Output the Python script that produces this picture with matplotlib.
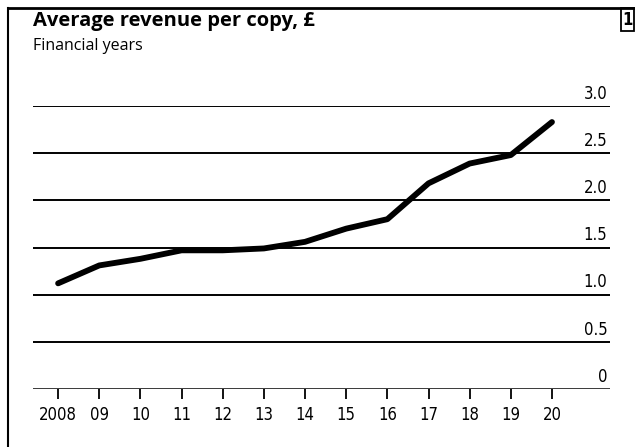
import matplotlib.pyplot as plt
from matplotlib.lines import Line2D
from matplotlib.patches import Rectangle

years = [2008, 2009, 2010, 2011, 2012, 2013, 2014, 2015, 2016, 2017, 2018, 2019, 2020]
year_labels = ["2008", "09", "10", "11", "12", "13", "14", "15", "16", "17", "18", "19", "20"]
revenue = [1.12, 1.31, 1.38, 1.47, 1.47, 1.49, 1.56, 1.70, 1.80, 2.18, 2.39, 2.48, 2.83]
y_ticks = [0, 0.5, 1.0, 1.5, 2.0, 2.5, 3.0]
y_labels = ["0", "0.5", "1.0", "1.5", "2.0", "2.5", "3.0"]

plt.rcParams['font.family'] = ['DejaVu Sans']
plt.rcParams['font.stretch'] = 'condensed'

fig = plt.figure(figsize=(6.35, 4.47), dpi=100)
ax = fig.add_axes([33 / 635, 58 / 447, 577 / 635, 283 / 447])

for v, lab in zip(y_ticks, y_labels):
    ax.axhline(v, color='black', lw=1.8 if v == 0 else 1.4, zorder=1)
    ax.text(2021.35, v + 0.035, lab, ha='right', va='bottom', fontsize=12)

ax.plot(years, revenue, color='black', lw=4.2, solid_capstyle='round', zorder=3)

ax.set_xlim(2007.39, 2021.41)
ax.set_ylim(0, 3)
for s in ax.spines.values():
    s.set_visible(False)
ax.set_yticks([])
ax.set_xticks(years)
ax.set_xticklabels(year_labels, fontsize=12)
ax.tick_params(axis='x', length=7, width=1.3, pad=5)

# frame (left and top edges) and the panel number box
fig.add_artist(Line2D([8 / 635, 8 / 635], [0, 439 / 447], transform=fig.transFigure,
                      color='black', lw=1.5))
fig.add_artist(Line2D([8 / 635, 1], [439 / 447, 439 / 447], transform=fig.transFigure,
                      color='black', lw=2))
fig.patches.append(Rectangle((621 / 635, 416 / 447), 13 / 635, 23 / 447, transform=fig.transFigure,
                             fill=False, ec='black', lw=1.3))
fig.text(628 / 635, 427 / 447, "1", ha='center', va='center', fontsize=12, weight='bold')
fig.text(33 / 635, 426 / 447, "Average revenue per copy, £", fontsize=14.5, weight='bold',
         va='center', ha='left', family=['Open Sans', 'DejaVu Sans'], stretch='normal')
fig.text(33 / 635, 401 / 447, "Financial years", fontsize=11.5, va='center', ha='left',
         family=['Open Sans', 'DejaVu Sans'], stretch='normal')

fig.savefig("out.png", dpi=100)
